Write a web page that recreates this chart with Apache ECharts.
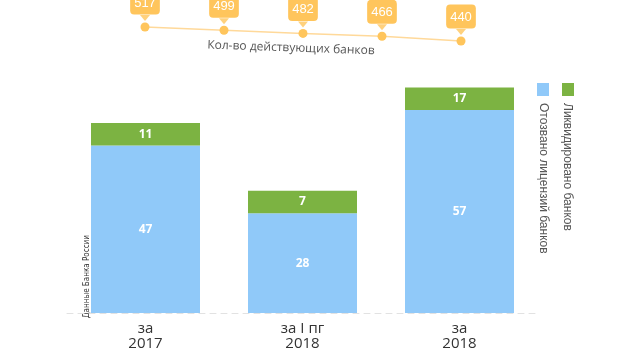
<!DOCTYPE html>
<html><head><meta charset="utf-8">
<script src="https://cdn.jsdelivr.net/npm/echarts@6/dist/echarts.min.js"></script>
<style>html,body{margin:0;padding:0;background:#fff}#c{width:630px;height:355px}</style>
</head><body><div id="c"></div>
<script>
// Data
var periods = ['за\n2017\nгод', 'за I пг\n2018\nгода', 'за\n2018\nгод'];
var revoked = [47, 28, 57];          // Отозвано лицензий банков
var liquidated = [11, 7, 17];        // Ликвидировано банков
var activeBanks = [517, 499, 482, 466, 440]; // Кол-во действующих банков
var activeSlots = ['1', '2', '3', '4', '5'];

// Visual thickness of the header band (in axis units) for the liquidated count
var BAND = 6.3;

var chart = echarts.init(document.getElementById('c'), null, {renderer: 'canvas'});
var orange = '#FFC55C';
var option = {
  animation: false,
  textStyle: {fontFamily: 'Open Sans'},
  grid: [
    {left: 67, width: 471, top: 28, height: 285, outerBoundsMode: 'none', containLabel: false},
    {left: 105.5, width: 395, top: 11.9, height: 36.4, outerBoundsMode: 'none', containLabel: false}
  ],
  xAxis: [
    {type: 'category', gridIndex: 0, data: periods, offset: 5,
     axisLine: {show: true, lineStyle: {color: '#e2e2e2', type: [6, 5], width: 1}},
     axisTick: {show: false},
     axisLabel: {color: '#333', fontSize: 15, lineHeight: 15, margin: 3, fontFamily: 'Open Sans'}},
    {type: 'category', gridIndex: 1, data: activeSlots, show: false}
  ],
  yAxis: [
    {type: 'value', gridIndex: 0, min: 0, max: 80, show: false},
    {type: 'value', gridIndex: 1, min: 400, max: 600, show: false}
  ],
  series: [
    {name: 'Отозвано лицензий банков', type: 'bar', stack: 's', barWidth: 109,
     xAxisIndex: 0, yAxisIndex: 0, data: revoked,
     itemStyle: {color: '#90C9F9'},
     label: {show: true, position: 'inside', color: '#fff', fontWeight: 'bold', fontSize: 12}},
    {name: 'Ликвидировано банков', type: 'bar', stack: 's', barWidth: 109,
     xAxisIndex: 0, yAxisIndex: 0,
     data: liquidated.map(function () { return BAND; }),
     itemStyle: {color: '#7CB342'},
     label: {show: true, position: 'inside', color: '#fff', fontWeight: 'bold', fontSize: 12,
       formatter: function (p) { return liquidated[p.dataIndex]; }}},
    {name: 'Кол-во действующих банков', type: 'line', xAxisIndex: 1, yAxisIndex: 1,
     data: activeBanks, symbol: 'circle', symbolSize: 9, z: 5,
     lineStyle: {color: '#FFD99A', width: 1.5},
     itemStyle: {color: orange},
     label: {show: true, position: 'top', distance: 8, backgroundColor: orange,
       borderRadius: 4, padding: [6, 4, 5, 4], color: '#fff', fontSize: 13,
       fontFamily: 'Liberation Sans'}},
    {type: 'scatter', xAxisIndex: 1, yAxisIndex: 1, data: activeBanks,
     symbol: 'triangle', symbolRotate: 180, symbolSize: [10, 6], symbolOffset: [0, -9],
     itemStyle: {color: orange}, silent: true, z: 4}
  ],
  graphic: [
    {type: 'text', x: 291, y: 48, rotation: -0.035,
     style: {text: 'Кол-во действующих банков', fill: '#555', fontSize: 12,
       fontFamily: 'Open Sans', align: 'center', verticalAlign: 'middle'}},
    {type: 'rect', shape: {x: 537, y: 83, width: 12, height: 13}, style: {fill: '#90C9F9'}},
    {type: 'rect', shape: {x: 562, y: 83, width: 12, height: 13}, style: {fill: '#7CB342'}},
    {type: 'text', x: 543, y: 103, rotation: -Math.PI / 2,
     style: {text: 'Отозвано лицензий банков', fill: '#555', fontSize: 12,
       fontFamily: 'Liberation Sans', align: 'left', verticalAlign: 'middle'}},
    {type: 'text', x: 567.5, y: 103, rotation: -Math.PI / 2,
     style: {text: 'Ликвидировано банков', fill: '#555', fontSize: 12,
       fontFamily: 'Liberation Sans', align: 'left', verticalAlign: 'middle'}},
    {type: 'text', x: 87, y: 318, rotation: Math.PI / 2,
     style: {text: 'Данные Банка России', fill: '#333', fontSize: 8,
       fontFamily: 'DejaVu Sans Condensed', align: 'left', verticalAlign: 'middle'}}
  ]
};
chart.setOption(option);
</script>
</body></html>
